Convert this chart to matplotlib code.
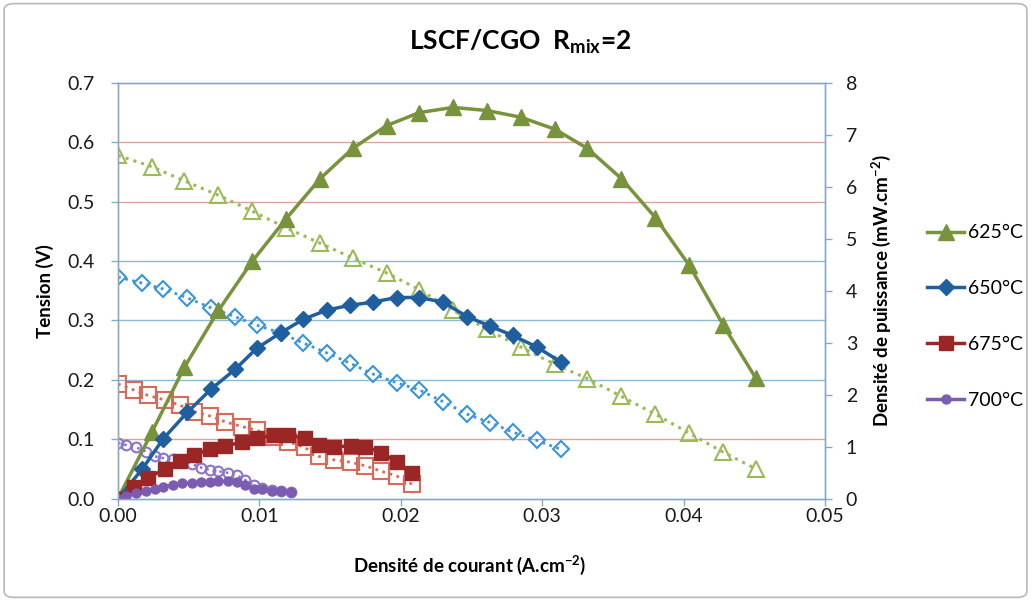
import matplotlib.pyplot as plt
from matplotlib.patches import FancyBboxPatch

plt.rcParams['font.family'] = ['Lato', 'DejaVu Sans']
plt.rcParams['mathtext.default'] = 'regular'

# densité de courant (A.cm-2), tension (V), puissance (mW.cm-2)
courant_625 = [0.0, 0.0024, 0.0047, 0.0071, 0.0095, 0.0119, 0.0143, 0.0166, 0.0190, 0.0213,
               0.0237, 0.0261, 0.0285, 0.0309, 0.0332, 0.0356, 0.0380, 0.0404, 0.0428, 0.0451]
tension_625 = [0.578, 0.559, 0.535, 0.511, 0.484, 0.456, 0.430, 0.405, 0.380, 0.352,
               0.317, 0.285, 0.255, 0.226, 0.202, 0.172, 0.142, 0.110, 0.078, 0.050]
puissance_625 = [0.0, 1.28, 2.53, 3.62, 4.57, 5.39, 6.16, 6.74, 7.18, 7.43,
                 7.53, 7.47, 7.34, 7.11, 6.74, 6.16, 5.41, 4.49, 3.34, 2.32]

courant_650 = [0.0, 0.0017, 0.0032, 0.0049, 0.0066, 0.0083, 0.0098, 0.0115, 0.0131, 0.0148,
               0.0164, 0.0180, 0.0197, 0.0213, 0.0230, 0.0247, 0.0263, 0.0279, 0.0296, 0.0313]
tension_650 = [0.373, 0.363, 0.353, 0.338, 0.321, 0.306, 0.292, 0.279, 0.262, 0.245,
               0.228, 0.210, 0.195, 0.183, 0.163, 0.142, 0.128, 0.112, 0.098, 0.083]
puissance_650 = [0.0, 0.56, 1.15, 1.66, 2.11, 2.49, 2.89, 3.19, 3.45, 3.63,
                 3.72, 3.78, 3.87, 3.87, 3.78, 3.50, 3.32, 3.14, 2.92, 2.63]

courant_675 = [0.0, 0.0011, 0.0021, 0.0033, 0.0044, 0.0054, 0.0065, 0.0076, 0.0088, 0.0098,
               0.0110, 0.0120, 0.0132, 0.0142, 0.0153, 0.0165, 0.0175, 0.0186, 0.0197, 0.0208]
tension_675 = [0.193, 0.183, 0.174, 0.166, 0.157, 0.146, 0.139, 0.129, 0.121, 0.115,
               0.104, 0.096, 0.086, 0.071, 0.065, 0.061, 0.055, 0.046, 0.038, 0.024]
puissance_675 = [0.0, 0.23, 0.39, 0.57, 0.72, 0.84, 0.95, 1.01, 1.09, 1.16,
                 1.22, 1.23, 1.16, 1.03, 1.00, 1.01, 1.00, 0.88, 0.71, 0.49]

courant_700 = [0.0, 0.0006, 0.0013, 0.0020, 0.0026, 0.0032, 0.0039, 0.0045, 0.0052, 0.0059,
               0.0065, 0.0071, 0.0078, 0.0084, 0.0090, 0.0096, 0.0102, 0.0109, 0.0115, 0.0122]
tension_700 = [0.094, 0.090, 0.086, 0.079, 0.071, 0.068, 0.066, 0.064, 0.058, 0.052,
               0.048, 0.046, 0.043, 0.039, 0.031, 0.022, 0.018, 0.015, 0.012, 0.011]
puissance_700 = [0.0, 0.05, 0.10, 0.14, 0.18, 0.23, 0.26, 0.29, 0.30, 0.31,
                 0.32, 0.33, 0.33, 0.32, 0.26, 0.19, 0.18, 0.15, 0.14, 0.13]

# couleurs : (pleine, vide)
c625 = ('#77933C', '#9BBB59')
c650 = ('#1F5FA0', '#3A95DD')
c675 = ('#9B2626', '#D86A5A')
c700 = ('#7B5CB0', '#8C74C8')

fig = plt.figure(figsize=(10.31, 6.01), dpi=100)
fig.patches.append(FancyBboxPatch((0.004, 0.006), 0.992, 0.988, boxstyle='round,pad=0,rounding_size=0.01',
                                  transform=fig.transFigure, facecolor='white', edgecolor='#B8B8B8',
                                  linewidth=1.2, zorder=-10))

ax = fig.add_axes([118 / 1031, 1 - 498.5 / 601, (825 - 118) / 1031, (498.5 - 83) / 601])
ax.patch.set_alpha(0)
ax2 = ax.twinx()

# grille horizontale
grid_cols = ['#DCA49C', '#8DB8D6', '#8DB8D6', '#8DB8D6', '#DCA49C', '#DCA49C']
for val, col in zip([0.1, 0.2, 0.3, 0.4, 0.5, 0.6], grid_cols):
    ax.axhline(val, color=col, linewidth=1.0, zorder=0)

# tension : symboles vides, pointillés
ax.plot(courant_625, tension_625, linestyle=':', color=c625[1], linewidth=2.2, marker='^', markersize=11,
        markerfacecolor='none', markeredgecolor=c625[1], markeredgewidth=1.5)
ax.plot(courant_650, tension_650, linestyle=':', color=c650[1], linewidth=2.0, marker='D', markersize=8,
        markerfacecolor='none', markeredgecolor=c650[1], markeredgewidth=1.5)
ax.plot(courant_675, tension_675, linestyle=':', color=c675[1], linewidth=2.0, marker='s', markersize=11,
        markerfacecolor='none', markeredgecolor=c675[1], markeredgewidth=1.5)
ax.plot(courant_700, tension_700, linestyle=':', color=c700[1], linewidth=1.8, marker='o', markersize=7,
        markerfacecolor='none', markeredgecolor=c700[1], markeredgewidth=1.5)

# puissance : symboles pleins, traits continus
ax2.plot(courant_625, puissance_625, '-', color=c625[0], linewidth=2.5, marker='^', markersize=11, label='625°C')
ax2.plot(courant_650, puissance_650, '-', color=c650[0], linewidth=2.5, marker='D', markersize=8.5, label='650°C')
ax2.plot(courant_675, puissance_675, '-', color=c675[0], linewidth=2.5, marker='s', markersize=9.5, label='675°C')
ax2.plot(courant_700, puissance_700, '-', color=c700[0], linewidth=2.5, marker='o', markersize=6.5, label='700°C')

ax.set_xlim(0, 0.05)
ax.set_ylim(0, 0.7)
ax2.set_ylim(0, 8)
ax.set_xticks([0, 0.01, 0.02, 0.03, 0.04, 0.05])
ax.set_xticklabels(['0.00', '0.01', '0.02', '0.03', '0.04', '0.05'])
ax.set_yticks([0, 0.1, 0.2, 0.3, 0.4, 0.5, 0.6, 0.7])
ax.set_yticklabels(['0.0', '0.1', '0.2', '0.3', '0.4', '0.5', '0.6', '0.7'])
ax2.set_yticks(range(9))

axis_col = '#86A9C7'
for a in (ax, ax2):
    for s in a.spines.values():
        s.set_color(axis_col)
        s.set_linewidth(1.0)
    a.tick_params(colors=axis_col, labelcolor='#1A1A1A', labelsize=14, length=5, width=1)
ax.spines['left'].set_color('#C89A96')
ax.tick_params(axis='x', pad=2)
ax.tick_params(axis='y', pad=12)
ax2.tick_params(axis='y', pad=10)

ax.set_xlabel('Densité de courant (A.cm$^{-2}$)', fontsize=13.5, fontweight='bold')
ax.set_ylabel('Tension (V)', fontsize=13.5, fontweight='bold')
ax2.set_ylabel('Densité de puissance (mW.cm$^{-2}$)', fontsize=13.5, fontweight='bold')
ax.xaxis.set_label_coords((470 - 118) / 707, (498.5 - 565) / 415.5)
ax.xaxis.label.set_va('center')
ax.yaxis.set_label_coords((45 - 118) / 707, 0.5)
ax.yaxis.label.set_va('center')
ax2.yaxis.set_label_coords((881 - 118) / 707, 0.5)
ax2.yaxis.label.set_va('center')

fig.text(0.505, 0.93, 'LSCF/CGO  R$_{mix}$=2', ha='center', va='center', fontsize=19, fontweight='bold')

fig.legend(*ax2.get_legend_handles_labels(), loc='center left', bbox_to_anchor=(0.892, 0.473),
           frameon=False, fontsize=14, handlelength=1.9, handletextpad=0.2, labelspacing=2.0,
           borderaxespad=0)

fig.savefig('out.png', dpi=100)
